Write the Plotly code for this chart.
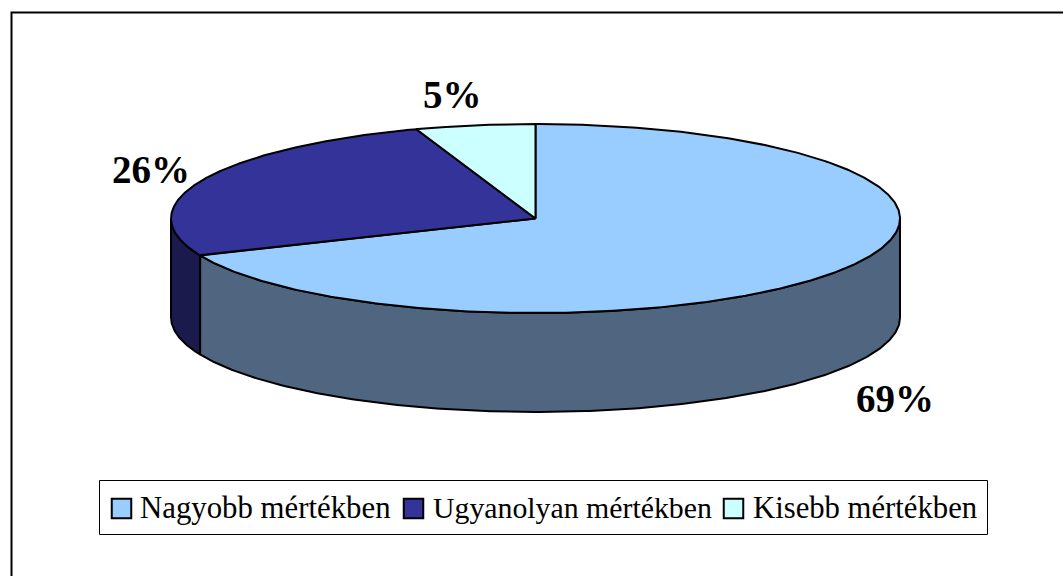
import numpy as np
import plotly.graph_objects as go

categories = ["Nagyobb mértékben", "Ugyanolyan mértékben", "Kisebb mértékben"]
values = [68.6, 26.1, 5.3]
top_colors = ["#99CCFF", "#333399", "#CCFFFF"]
side_colors = ["#4F6580", "#1A1A4D", "#668080"]

W, H = 1063, 576
CX, CY, RX, RY, DEPTH = 535.5, 218.5, 364.5, 94.5, 99
FONT = "Liberation Serif"

def pt(theta_deg, dy=0.0):
    t = np.radians(theta_deg)
    return CX + RX * np.sin(t), CY - RY * np.cos(t) + dy

fig = go.Figure()
line = dict(color="black", width=2)

edges = np.cumsum([0] + values) / sum(values) * 360.0

# side walls (only the front half, 90-270 deg clockwise from top, is visible)
for i in range(len(values)):
    a, b = max(edges[i], 90), min(edges[i + 1], 270)
    if a >= b:
        continue
    th = np.linspace(a, b, 240)
    x1, y1 = pt(th)
    x2, y2 = pt(th[::-1], DEPTH)
    fig.add_trace(go.Scatter(x=np.r_[x1, x2, x1[0]], y=np.r_[y1, y2, y1[0]], mode="lines",
                             fill="toself", fillcolor=side_colors[i], line=line,
                             hoverinfo="skip", showlegend=False))

# top faces
for i in range(len(values)):
    th = np.linspace(edges[i], edges[i + 1], 400)
    x, y = pt(th)
    fig.add_trace(go.Scatter(x=np.r_[CX, x, CX], y=np.r_[CY, y, CY], mode="lines",
                             fill="toself", fillcolor=top_colors[i], line=line,
                             name=categories[i], showlegend=False,
                             hovertemplate="%{fullData.name}<extra></extra>"))

# percentage labels
label_pos = [(895, 398), (151, 169), (452.5, 94)]
for v, (lx, ly) in zip(values, label_pos):
    fig.add_annotation(x=lx, y=ly, text=f"<b>{round(v)}%</b>", showarrow=False, xref="x", yref="y",
                       xanchor="center", yanchor="middle",
                       font=dict(family=FONT, size=39, color="black"))

# legend
swatch_x = [121.5, 413.5, 733.5]
text_x = [138, 431, 751]
legend_sizes = [30.8, 29.8, 30.7]
leg_y = 507.5
for i, c in enumerate(categories):
    fig.add_trace(go.Scatter(x=[swatch_x[i]], y=[508.5], mode="markers",
                             marker=dict(symbol="square", size=19.5, color=top_colors[i],
                                         line=dict(color="black", width=2)),
                             hoverinfo="skip", showlegend=False))
    fig.add_annotation(x=text_x[i], y=leg_y, text=c, showarrow=False, xref="x", yref="y",
                       xanchor="left", yanchor="middle",
                       font=dict(family=FONT, size=legend_sizes[i], color="black"))

shapes = [
    dict(type="rect", xref="x", yref="y", x0=11.5, y0=12.5, x1=W + 10, y1=H + 10,
         line=dict(color="black", width=2), fillcolor="rgba(0,0,0,0)", layer="below"),
    dict(type="rect", xref="x", yref="y", x0=99.5, y0=480.5, x1=987.5, y1=534.5,
         line=dict(color="black", width=1), fillcolor="white", layer="below"),
]

fig.update_layout(
    width=W, height=H, margin=dict(l=0, r=0, t=0, b=0),
    paper_bgcolor="white", plot_bgcolor="white", shapes=shapes, showlegend=False,
    xaxis=dict(range=[0, W], visible=False, fixedrange=True),
    yaxis=dict(range=[H, 0], visible=False, fixedrange=True),
)
fig.write_html("out.html", config={"displayModeBar": False},
               post_script="document.body.style.margin='0';document.body.style.background='white';window.dispatchEvent(new Event('resize'));")
